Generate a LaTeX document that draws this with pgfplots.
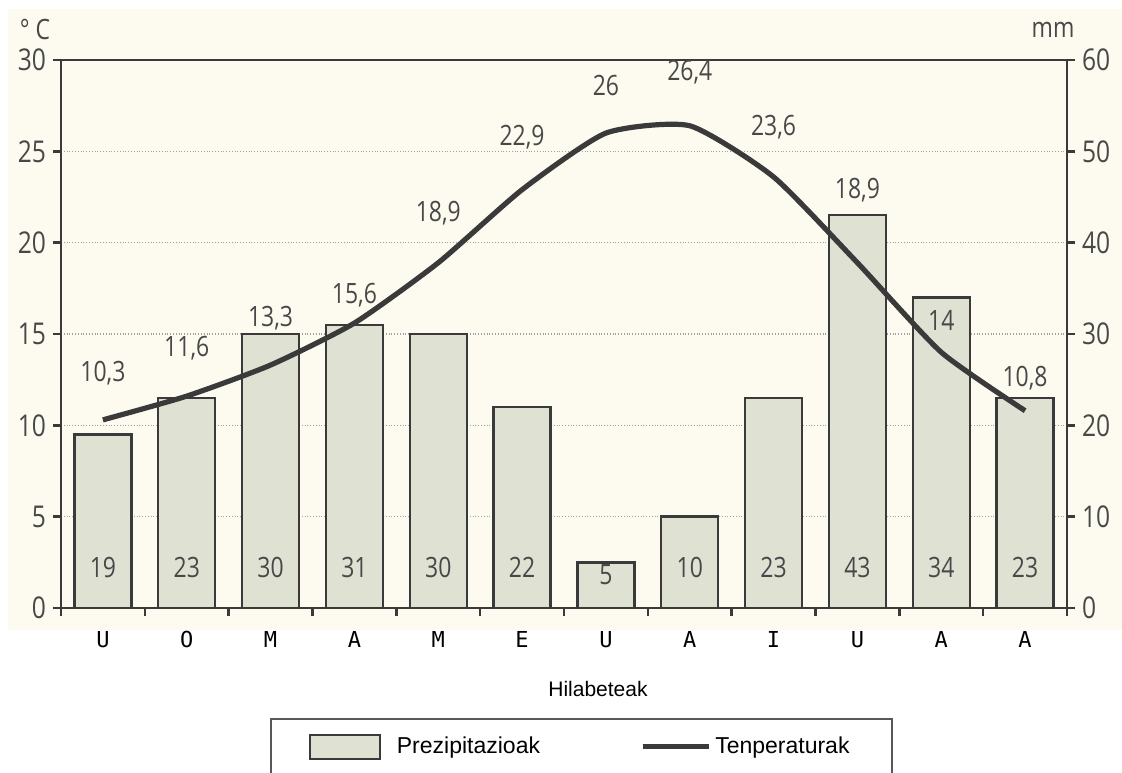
\documentclass[border=0pt]{standalone}
\usepackage{fontspec}
\setmainfont{Liberation Sans}
\newfontfamily\numfont[FakeStretch=0.82]{Open Sans}
\newfontfamily\monthfont{DejaVu Sans Mono}
\usepackage{pgfplots}
\usepackage{pgfplotstable}
\pgfplotsset{compat=1.18}

\definecolor{bg}{HTML}{FDFBF0}
\definecolor{barfill}{HTML}{DFE1D3}
\definecolor{ink}{HTML}{3A3A3A}
\definecolor{txt}{HTML}{484848}
\definecolor{gridc}{HTML}{A0A0A0}

% x: month index, mm: precipitation, temp: temperature
% bly / ty: where the value labels sit (mm / degrees)
\pgfplotstableread{
x  mm  temp  bly   ty     tlab
0  19  10.3  4.47  12.86  10,3
1  23  11.6  4.47  14.23  11,6
2  30  13.3  4.47  15.87  13,3
3  31  15.6  4.47  17.13  15,6
4  30  18.9  4.47  21.62  18,9
5  22  22.9  4.47  25.78  22,9
6  5   26.0  3.60  28.63  26
7  10  26.4  4.47  29.34  26,4
8  23  23.6  4.47  26.33  23,6
9  43  18.9  4.47  22.88  18,9
10 34  14.0  4.47  15.76  14
11 23  10.8  4.47  12.59  10,8
}\climate

\tikzset{vallabel/.style={font=\numfont\fontsize{14}{16}\selectfont, text=txt, anchor=center}}

\pgfplotsset{
  base/.style={
    scale only axis, width=503pt, height=274pt,
    xmin=-0.5, xmax=11.5,
    axis line style={ink, line width=1.4pt},
    tick align=outside,
    major tick length=4pt, minor tick length=4pt,
    every tick/.style={ink, line width=1.2pt},
    /pgf/number format/assume math mode=true,
    yticklabel style={font=\numfont\fontsize{15}{17}\selectfont, text=txt},
  },
}

\begin{document}
\begin{tikzpicture}
\useasboundingbox (-30.5pt,-82pt) rectangle (530.5pt,304pt);
\fill[bg] (-26.5pt,-11pt) rectangle (530.5pt,299.5pt);

% precipitation (right axis)
\begin{axis}[base,
  ymin=0, ymax=60, ytick={0,10,...,60},
  ytick pos=right, yticklabel pos=right,
  xtick={0,...,11},
  xticklabels={U,O,M,A,M,E,U,A,I,U,A,A},
  xtick pos=bottom,
  major x tick style={draw=none},
  minor xtick={-0.5,0.5,...,11.5},
  ymajorgrids,
  grid style={gridc, densely dotted, line width=0.8pt},
  xticklabel style={font=\monthfont\fontsize{11}{13}\selectfont, text=black, yshift=-4pt},
  xlabel={Hilabeteak},
  xlabel style={font=\fontsize{10.5}{12}\selectfont, yshift=-10pt, xshift=17pt},
]
\addplot[ybar, bar width=0.68, fill=barfill, draw=ink, line width=1.2pt]
  table[x=x, y=mm] {\climate};
\addplot[only marks, mark=none, nodes near coords, point meta=explicit symbolic,
  every node near coord/.append style={vallabel}]
  table[x=x, y=bly, meta=mm] {\climate};
\end{axis}

% temperature (left axis)
\begin{axis}[base,
  ymin=0, ymax=30, ytick={0,5,...,30},
  ytick pos=left,
  xtick=\empty,
  legend columns=2,
  legend style={at={(0.517,-0.2007)}, anchor=north,
    draw=ink!85, line width=1pt, inner xsep=19pt, inner ysep=7pt,
    font=\fontsize{11.5}{13}\selectfont,
    /tikz/every even column/.append style={column sep=48pt}},
]
\addlegendimage{legend image code/.code={
  \draw[fill=barfill, draw=ink, line width=1.2pt] (0pt,-6pt) rectangle (35pt,6pt);
  \path (41pt,0pt);}}
\addlegendentry{Prezipitazioak}
\addplot[ink, line width=2.6pt, smooth, tension=0.35,
  legend image code/.code={\draw[ink, line width=2.6pt] (0pt,0pt) -- (33pt,0pt);}]
  table[x=x, y=temp] {\climate};
\addlegendentry{Tenperaturak}
\addplot[only marks, mark=none, forget plot, nodes near coords, point meta=explicit symbolic,
  every node near coord/.append style={vallabel}]
  table[x=x, y=ty, meta=tlab] {\climate};
\end{axis}

\node[font=\numfont\fontsize{14}{16}\selectfont, text=txt] at (-13pt,289pt) {° C};
\node[font=\numfont\fontsize{14}{16}\selectfont, text=txt] at (496pt,289pt) {mm};
\end{tikzpicture}
\end{document}
